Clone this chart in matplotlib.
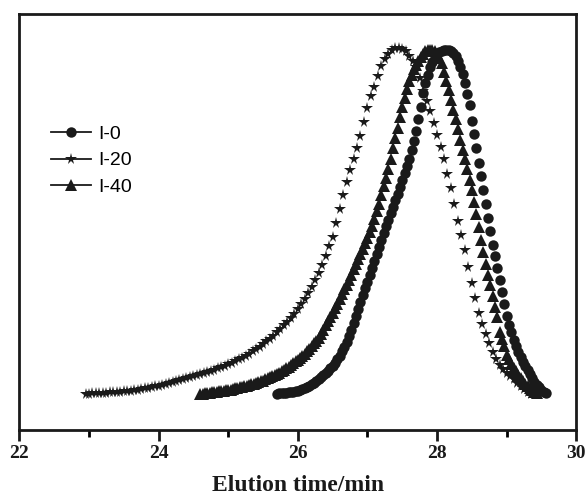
import numpy as np
import matplotlib
matplotlib.use('Agg')
from matplotlib import pyplot as plt
from matplotlib.lines import Line2D

# GPC traces, normalised detector signal
# I-20: t = 22.95 .. 29.35, step 0.05
i20_start, i20_stop = 22.95, 29.35
i20_y = [0.000, 0.001, 0.002, 0.002, 0.003, 0.003, 0.004, 0.005, 0.006, 0.006,
         0.007, 0.008, 0.009, 0.010, 0.011, 0.013, 0.014, 0.016, 0.018, 0.020,
         0.022, 0.024, 0.026, 0.029, 0.031, 0.034, 0.037, 0.040, 0.042, 0.045,
         0.048, 0.051, 0.054, 0.057, 0.060, 0.063, 0.067, 0.070, 0.074, 0.078,
         0.082, 0.086, 0.091, 0.095, 0.100, 0.105, 0.111, 0.117, 0.123, 0.130,
         0.137, 0.144, 0.152, 0.160, 0.169, 0.178, 0.188, 0.198, 0.209, 0.220,
         0.232, 0.245, 0.259, 0.275, 0.292, 0.310, 0.330, 0.350, 0.374, 0.400,
         0.427, 0.455, 0.495, 0.535, 0.574, 0.612, 0.647, 0.680, 0.712, 0.745,
         0.786, 0.827, 0.860, 0.888, 0.920, 0.948, 0.968, 0.983, 0.993, 0.999,
         1.001, 0.998, 0.990, 0.978, 0.963, 0.945, 0.912, 0.876, 0.847, 0.817,
         0.784, 0.747, 0.713, 0.678, 0.637, 0.595, 0.550, 0.500, 0.458, 0.415,
         0.366, 0.320, 0.276, 0.234, 0.202, 0.173, 0.146, 0.121, 0.101, 0.084,
         0.072, 0.062, 0.052, 0.042, 0.032, 0.022, 0.014, 0.007, 0.001]

# I-0: t = 25.70 .. 29.5667, step 1/30
i0_start, i0_stop = 25.70, 29.5667
i0_y = [0.001, 0.002, 0.002, 0.003, 0.004, 0.005, 0.006, 0.007, 0.008,
        0.010, 0.012, 0.014, 0.017, 0.020, 0.024, 0.028, 0.032, 0.037,
        0.042, 0.048, 0.054, 0.060, 0.067, 0.074, 0.082, 0.091, 0.100,
        0.110, 0.123, 0.136, 0.150, 0.168, 0.186, 0.205, 0.225, 0.245,
        0.265, 0.285, 0.305, 0.325, 0.345, 0.365, 0.385, 0.405, 0.425,
        0.445, 0.464, 0.484, 0.503, 0.522, 0.541, 0.560, 0.579, 0.598,
        0.618, 0.638, 0.658, 0.680, 0.705, 0.732, 0.760, 0.795, 0.828,
        0.870, 0.898, 0.922, 0.945, 0.960, 0.972, 0.981, 0.987, 0.991,
        0.993, 0.994, 0.994, 0.992, 0.986, 0.976, 0.962, 0.945, 0.925,
        0.900, 0.868, 0.835, 0.790, 0.750, 0.710, 0.668, 0.630, 0.590,
        0.550, 0.510, 0.470, 0.430, 0.398, 0.365, 0.330, 0.295, 0.260,
        0.225, 0.200, 0.178, 0.157, 0.138, 0.120, 0.106, 0.093, 0.080,
        0.068, 0.058, 0.047, 0.036, 0.027, 0.019, 0.012, 0.007, 0.004]

# I-40: t = 24.60 .. 29.4333, step 1/30
i40_start, i40_stop = 24.60, 29.4333
i40_y = [0.000, 0.001, 0.002, 0.003, 0.004, 0.005, 0.006, 0.007, 0.008,
         0.009, 0.010, 0.011, 0.012, 0.013, 0.014, 0.016, 0.017, 0.019,
         0.020, 0.022, 0.024, 0.026, 0.028, 0.030, 0.032, 0.034, 0.037,
         0.039, 0.042, 0.045, 0.048, 0.051, 0.055, 0.058, 0.062, 0.066,
         0.070, 0.074, 0.079, 0.084, 0.089, 0.094, 0.099, 0.105, 0.111,
         0.117, 0.124, 0.131, 0.138, 0.146, 0.153, 0.161, 0.172, 0.185,
         0.199, 0.211, 0.223, 0.235, 0.248, 0.261, 0.274, 0.288, 0.302,
         0.316, 0.330, 0.345, 0.360, 0.375, 0.390, 0.405, 0.420, 0.435,
         0.450, 0.468, 0.486, 0.506, 0.528, 0.550, 0.575, 0.600, 0.625,
         0.650, 0.680, 0.710, 0.740, 0.770, 0.800, 0.828, 0.855, 0.880,
         0.903, 0.922, 0.940, 0.950, 0.963, 0.974, 0.983, 0.990, 0.994,
         0.995, 0.994, 0.990, 0.983, 0.972, 0.955, 0.930, 0.905, 0.878,
         0.850, 0.822, 0.795, 0.765, 0.735, 0.705, 0.680, 0.650, 0.618,
         0.590, 0.555, 0.520, 0.482, 0.446, 0.410, 0.375, 0.345, 0.315,
         0.282, 0.252, 0.222, 0.180, 0.160, 0.140, 0.112, 0.100, 0.088,
         0.076, 0.066, 0.056, 0.046, 0.038, 0.030, 0.023, 0.017, 0.011,
         0.006, 0.002]

labels = ['I-0', 'I-20', 'I-40']
markers = ['o', '*', '^']
msizes = [7.5, 8.5, 8]
ink = '#1a1a1a'

series = [
    (np.linspace(i0_start, i0_stop, len(i0_y)), i0_y),
    (np.linspace(i20_start, i20_stop, len(i20_y)), i20_y),
    (np.linspace(i40_start, i40_stop, len(i40_y)), i40_y),
]

fig = plt.figure(figsize=(5.88, 5.0), dpi=100)
ax = fig.add_axes([0.033, 0.14, 0.947, 0.832])

for (t, y), m, ms in zip(series, markers, msizes):
    ax.plot(t, y, linestyle='none', marker=m, markersize=ms,
            color=ink, markeredgewidth=0)

ax.set_xlim(22, 30)
ax.set_ylim(-0.104, 1.098)
ax.set_xticks([22, 24, 26, 28, 30])
ax.set_xticks([23, 25, 27, 29], minor=True)
ax.set_yticks([])
ax.tick_params(axis='x', which='major', direction='out', length=8, width=2,
               pad=3, labelsize=14, colors=ink)
ax.tick_params(axis='x', which='minor', direction='out', length=5, width=2)
for lab in ax.get_xticklabels():
    lab.set_fontfamily('Liberation Serif')
    lab.set_fontweight('bold')
for sp in ax.spines.values():
    sp.set_linewidth(2)
    sp.set_color(ink)

ax.set_xlabel('Elution time/min', fontfamily='Liberation Serif',
              fontweight='bold', fontsize=17, labelpad=9, color=ink)

handles = [Line2D([], [], color=ink, linewidth=1.3, marker=m, markersize=ms,
                  markeredgewidth=0) for m, ms in zip(markers, msizes)]
ax.legend(handles, labels, loc='upper left', bbox_to_anchor=(0.056, 0.733),
          frameon=False, borderpad=0, borderaxespad=0, handlelength=2.1,
          handletextpad=0.36, labelspacing=0.47,
          prop={'family': 'Liberation Sans', 'size': 14})

plt.savefig('out.png', dpi=100)
plt.close()
